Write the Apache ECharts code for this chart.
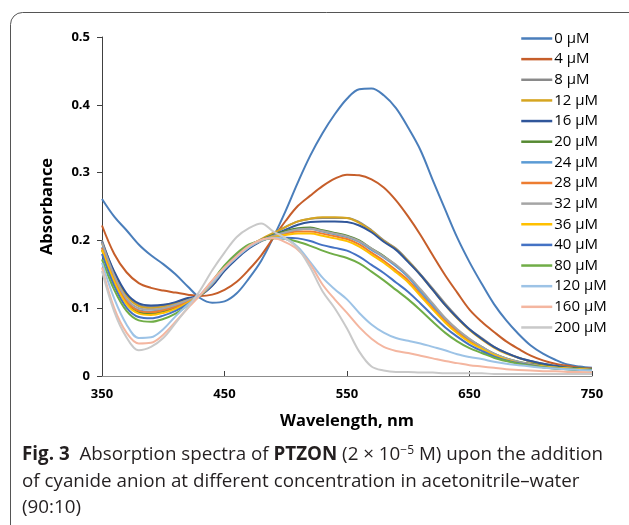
<!DOCTYPE html>
<html>
<head>
<meta charset="utf-8">
<script src="https://cdn.jsdelivr.net/npm/echarts@6/dist/echarts.min.js"></script>
<style>
html,body{margin:0;padding:0;background:#fff;}
#chart{width:629px;height:525px;}
</style>
</head>
<body>
<div id="chart"></div>
<script>
// ---- data ----
const wavelengths = [350,360,370,380,390,400,410,420,430,440,450,460,470,480,490,500,510,520,530,540,550,560,570,580,590,600,610,620,630,640,650,660,670,680,690,700,710,720,730,740,750];
const seriesNames = ['0 µM','4 µM','8 µM','12 µM','16 µM','20 µM','24 µM','28 µM','32 µM','36 µM','40 µM','80 µM','120 µM','160 µM','200 µM'];
const xTicks = [350,450,550,650,750];
const yTicks = [0,0.1,0.2,0.3,0.4,0.5];

const c0   = [.261,.235,.215,.194,.178,.165,.150,.132,.115,.108,.110,.122,.144,.170,.205,.244,.286,.325,.358,.386,.409,.423,.424,.414,.395,.366,.333,.289,.246,.204,.168,.136,.106,.082,.062,.045,.033,.024,.017,.014,.012];
const c4   = [.222,.180,.153,.137,.130,.126,.123,.120,.118,.120,.127,.139,.157,.178,.204,.229,.251,.266,.280,.291,.297,.296,.290,.278,.259,.235,.208,.178,.149,.123,.098,.080,.065,.051,.040,.030,.023,.018,.015,.012,.011];
const c8   = [.200,.152,.120,.105,.102,.104,.108,.114,.119,.134,.157,.175,.190,.200,.210,.220,.228,.232,.233,.233,.233,.227,.215,.200,.188,.170,.150,.129,.107,.087,.069,.056,.043,.034,.027,.022,.018,.015,.013,.011,.010];
const c12  = [.196,.150,.118,.103,.100,.102,.107,.113,.119,.135,.158,.176,.191,.202,.211,.220,.228,.232,.234,.234,.233,.226,.214,.199,.187,.169,.149,.127,.105,.085,.068,.054,.042,.033,.027,.021,.017,.014,.012,.011,.010];
const c16  = [.198,.154,.122,.107,.104,.105,.109,.115,.119,.133,.155,.173,.188,.199,.208,.216,.223,.227,.228,.228,.227,.222,.212,.198,.186,.168,.149,.127,.105,.086,.069,.055,.043,.034,.027,.022,.018,.015,.012,.011,.010];
const c20  = [.186,.140,.108,.094,.092,.095,.101,.110,.119,.137,.160,.178,.192,.201,.208,.214,.218,.219,.215,.211,.207,.200,.188,.177,.163,.147,.125,.105,.085,.068,.054,.043,.033,.026,.021,.018,.015,.013,.012,.011,.010];
const c24  = [.190,.144,.111,.097,.095,.098,.103,.111,.119,.136,.159,.177,.191,.200,.207,.212,.216,.217,.213,.209,.205,.198,.186,.175,.162,.146,.124,.104,.084,.067,.053,.042,.032,.025,.020,.017,.014,.012,.011,.010,.009];
const c28  = [.189,.143,.110,.096,.094,.097,.102,.110,.119,.137,.160,.178,.192,.200,.206,.210,.213,.213,.210,.206,.202,.194,.182,.170,.156,.141,.120,.100,.081,.065,.051,.041,.032,.025,.020,.017,.014,.012,.011,.010,.009];
const c32  = [.197,.148,.114,.100,.098,.100,.105,.112,.119,.136,.158,.176,.190,.199,.206,.212,.216,.217,.214,.210,.206,.199,.188,.176,.164,.148,.128,.107,.086,.069,.055,.043,.033,.026,.021,.017,.014,.012,.011,.010,.009];
const c36  = [.186,.139,.106,.092,.090,.093,.099,.108,.119,.138,.161,.179,.192,.200,.205,.208,.210,.210,.207,.203,.199,.191,.179,.167,.153,.138,.118,.098,.079,.063,.050,.040,.031,.024,.019,.016,.014,.012,.011,.010,.009];
const c40  = [.180,.133,.101,.087,.085,.089,.096,.106,.119,.139,.162,.180,.193,.200,.204,.204,.203,.199,.193,.189,.185,.176,.164,.152,.138,.124,.107,.089,.072,.058,.046,.037,.029,.023,.019,.016,.013,.011,.010,.009,.009];
const c80  = [.172,.127,.096,.082,.080,.084,.092,.104,.119,.140,.163,.181,.194,.200,.203,.202,.198,.192,.185,.179,.174,.166,.154,.141,.127,.113,.097,.080,.064,.051,.041,.034,.027,.022,.018,.015,.013,.011,.010,.009,.008];
const c120 = [.167,.114,.076,.056,.057,.069,.088,.105,.120,.138,.158,.175,.190,.200,.204,.202,.190,.168,.145,.128,.113,.093,.076,.064,.056,.052,.048,.043,.038,.032,.028,.025,.021,.018,.016,.014,.012,.011,.010,.009,.008];
const c160 = [.160,.100,.064,.048,.049,.061,.080,.100,.119,.141,.160,.177,.192,.201,.203,.197,.186,.165,.135,.113,.093,.072,.055,.043,.037,.034,.030,.026,.022,.019,.016,.014,.012,.010,.009,.008,.007,.007,.006,.006,.005];
const c200 = [.155,.095,.057,.038,.043,.056,.078,.101,.126,.156,.182,.205,.218,.225,.213,.203,.188,.160,.125,.100,.070,.036,.014,.008,.006,.006,.005,.005,.004,.004,.004,.004,.003,.003,.003,.003,.003,.003,.003,.003,.003];
const allValues = [c0,c4,c8,c12,c16,c20,c24,c28,c32,c36,c40,c80,c120,c160,c200];

// ---- styles ----
const colors = ['#4A7EBB','#C65E2A','#8A8A8A','#D6A520','#30569A','#568A32','#5B9BD5','#ED7D31','#A5A5A5','#FFC000','#4472C4','#70AD47','#9DC3E6','#F4B6A0','#C9C9C9'];
const FONT = '"Open Sans", "Noto Sans", sans-serif';
const CAP = '#231F20';

const chart = echarts.init(document.getElementById('chart'), null, {renderer:'canvas'});

const series = seriesNames.map((name, i) => ({
  name: name,
  type: 'line',
  smooth: 0.35,
  symbol: 'none',
  data: wavelengths.map((w, j) => [w, allValues[i][j]]),
  lineStyle: {width: 2, color: colors[i]},
  itemStyle: {color: colors[i]},
  emphasis: {disabled: true}
}));

chart.setOption({
  animation: false,
  backgroundColor: '#fff',
  color: colors,
  grid: {left: 102, right: 37, top: 37, bottom: 149, containLabel: false},
  legend: {
    orient: 'vertical',
    left: 520, top: 31, padding: 0,
    itemWidth: 31, itemHeight: 15, itemGap: 5.64,
    itemStyle: {opacity: 0},
    lineStyle: {width: 2.5},
    textStyle: {fontFamily: FONT, fontSize: 15, color: '#000', lineHeight: 15, padding: [0,0,0,-3]},
    data: seriesNames
  },
  xAxis: {
    type: 'value', min: xTicks[0], max: xTicks[xTicks.length-1], interval: 100,
    name: 'Wavelength, nm', nameLocation: 'middle', nameGap: 37,
    nameTextStyle: {fontFamily: FONT, fontSize: 16.5, fontWeight: 'bold', color: '#000'},
    axisLine: {show: true, lineStyle: {color: '#8c8c8c', width: 1}},
    axisTick: {show: true, inside: true, length: 5, lineStyle: {color: '#404040'}},
    axisLabel: {fontFamily: FONT, fontSize: 13, fontWeight: 'bold', color: '#000', margin: 12},
    splitLine: {show: false}
  },
  yAxis: {
    type: 'value', min: yTicks[0], max: yTicks[yTicks.length-1], interval: 0.1,
    name: 'Absorbance', nameLocation: 'middle', nameGap: 46,
    nameTextStyle: {fontFamily: FONT, fontSize: 16.5, fontWeight: 'bold', color: '#000'},
    axisLine: {show: true, lineStyle: {color: '#404040', width: 1}},
    axisTick: {show: true, inside: false, length: 5, lineStyle: {color: '#404040'}},
    axisLabel: {fontFamily: FONT, fontSize: 13, fontWeight: 'bold', color: '#000', margin: 12},
    splitLine: {show: false}
  },
  graphic: [
    {type: 'rect', z: -1, shape: {x: 10.5, y: 12.5, width: 700, height: 600, r: 12},
     style: {fill: 'none', stroke: '#555', lineWidth: 1}},
    {type: 'text', left: 22, top: 445,
     style: {text: '{b|Fig. 3}  Absorption spectra of {b|PTZON} (2 × 10{sup|−5} M) upon the addition',
       font: '18.8px ' + FONT, fill: CAP,
       rich: {b: {fontWeight: 'bold', fontSize: 18.8, fontFamily: FONT, fill: CAP},
              sup: {fontSize: 12, fontFamily: FONT, verticalAlign: 'top', padding: [0,0,7,0], fill: CAP}}}},
    {type: 'text', left: 22, top: 472,
     style: {text: 'of cyanide anion at different concentration in acetonitrile–water', font: '18.8px ' + FONT, fill: CAP}},
    {type: 'text', left: 22, top: 498,
     style: {text: '(90:10)', font: '18.8px ' + FONT, fill: CAP}}
  ],
  series: series
});
</script>
</body>
</html>
